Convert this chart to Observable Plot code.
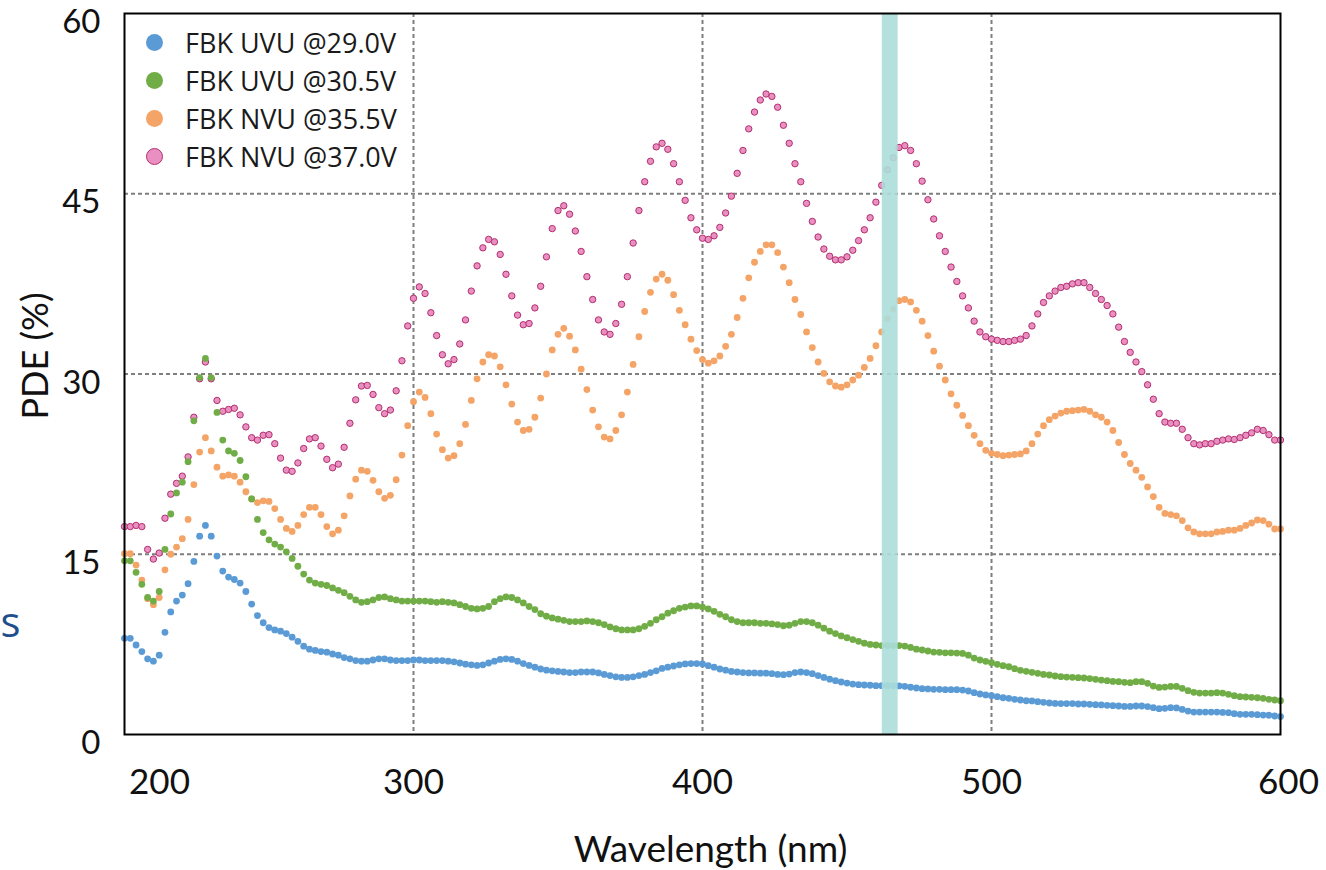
<!DOCTYPE html>
<html>
<head>
<meta charset="utf-8">
<script src="https://cdn.jsdelivr.net/npm/d3@7"></script>
<script src="https://cdn.jsdelivr.net/npm/@observablehq/plot@0.6"></script>
<style>
  html, body { margin: 0; padding: 0; background: #fff; }
  #wrap { position: relative; width: 1326px; height: 870px; overflow: hidden; }
  #legend { position: absolute; left: 146px; top: 23px; font-family: "Open Sans", sans-serif; font-size: 27px; color: #1a1a1a; }
  .row { display: flex; align-items: center; height: 38px; }
  .mk { width: 17px; height: 17px; border-radius: 50%; box-sizing: border-box; margin-right: 22px; }
</style>
</head>
<body>
<div id="wrap">
  <div id="chart"></div>
  <div id="legend"></div>
</div>
<script>
// Wavelength grid (nm), one sample every 2 nm
const wavelengths = d3.range(200, 601, 2);

const seriesNames = ["FBK UVU @29.0V", "FBK UVU @30.5V", "FBK NVU @35.5V", "FBK NVU @37.0V"];
const seriesFill = ["#5b9bd5", "#70ad47", "#f4a466", "#e98fc1"];
const seriesStroke = ["none", "none", "none", "#b2306e"];

// PDE (%) values, 200..600 nm in 2 nm steps
const uvu29 = [
  8.0, 8.0, 7.45, 6.9, 6.3, 6.1, 6.6, 8.5, 10.2, 11.1,
  11.6, 12.55, 14.4, 16.5, 17.4, 16.5, 14.85, 13.6, 13.1, 12.9,
  12.6, 11.9, 10.85, 9.9, 9.3, 8.9, 8.7, 8.6, 8.4, 8.1,
  7.75, 7.35, 7.1, 7.0, 6.9, 6.85, 6.7, 6.6, 6.4, 6.3,
  6.15, 6.1, 6.1, 6.2, 6.3, 6.3, 6.2, 6.15, 6.15, 6.15,
  6.2, 6.2, 6.15, 6.15, 6.15, 6.15, 6.1, 6.05, 5.95, 5.85,
  5.8, 5.75, 5.8, 5.95, 6.1, 6.25, 6.3, 6.25, 6.1, 5.9,
  5.75, 5.6, 5.45, 5.35, 5.3, 5.25, 5.2, 5.15, 5.15, 5.2,
  5.2, 5.2, 5.12, 5.0, 4.9, 4.8, 4.75, 4.75, 4.8, 4.9,
  5.0, 5.15, 5.3, 5.5, 5.6, 5.7, 5.8, 5.87, 5.9, 5.9,
  5.87, 5.73, 5.6, 5.45, 5.35, 5.25, 5.2, 5.15, 5.12, 5.12,
  5.1, 5.1, 5.06, 5.0, 4.98, 5.03, 5.15, 5.2, 5.15, 5.06,
  4.9, 4.75, 4.6, 4.48, 4.37, 4.28, 4.2, 4.15, 4.12, 4.1,
  4.06, 4.06, 4.06, 4.06, 4.04, 4.01, 3.93, 3.87, 3.81, 3.79,
  3.76, 3.76, 3.73, 3.73, 3.73, 3.7, 3.62, 3.48, 3.37, 3.29,
  3.23, 3.15, 3.06, 3.01, 2.93, 2.87, 2.81, 2.79, 2.73, 2.68,
  2.62, 2.59, 2.57, 2.57, 2.57, 2.54, 2.54, 2.51, 2.48, 2.46,
  2.43, 2.4, 2.37, 2.34, 2.34, 2.37, 2.37, 2.32, 2.23, 2.15,
  2.18, 2.23, 2.21, 2.09, 1.95, 1.87, 1.87, 1.87, 1.87, 1.87,
  1.84, 1.82, 1.73, 1.68, 1.68, 1.68, 1.65, 1.62, 1.6, 1.54,
  1.49
];
const uvu305 = [
  14.45, 14.45, 13.5, 12.5, 11.4, 11.1, 11.9, 15.4, 18.35, 20.1,
  21.0, 22.7, 26.1, 29.7, 31.3, 29.7, 26.8, 24.5, 23.6, 23.4,
  22.8, 21.45, 19.6, 17.9, 16.8, 16.2, 15.85, 15.6, 15.2, 14.65,
  14.0, 13.35, 12.85, 12.6, 12.5, 12.4, 12.2, 12.0, 11.8, 11.5,
  11.2, 11.0, 11.05, 11.2, 11.4, 11.45, 11.3, 11.2, 11.1, 11.1,
  11.1, 11.1, 11.1, 11.05, 11.0, 11.05, 11.0, 10.95, 10.8, 10.65,
  10.5, 10.45, 10.5, 10.65, 11.05, 11.3, 11.45, 11.4, 11.2, 10.95,
  10.65, 10.4, 10.05, 9.85, 9.7, 9.6, 9.5, 9.4, 9.4, 9.4,
  9.45, 9.4, 9.3, 9.15, 8.95, 8.8, 8.7, 8.7, 8.7, 8.8,
  9.0, 9.25, 9.55, 9.8, 10.1, 10.3, 10.5, 10.6, 10.7, 10.7,
  10.6, 10.45, 10.25, 10.0, 9.8, 9.55, 9.4, 9.3, 9.3, 9.3,
  9.25, 9.25, 9.2, 9.15, 9.05, 9.1, 9.25, 9.4, 9.4, 9.3,
  9.1, 8.85, 8.6, 8.4, 8.2, 8.05, 7.9, 7.75, 7.6, 7.5,
  7.45, 7.4, 7.4, 7.4, 7.4, 7.36, 7.25, 7.1, 7.03, 6.95,
  6.86, 6.84, 6.8, 6.8, 6.78, 6.75, 6.6, 6.36, 6.2, 6.09,
  5.98, 5.84, 5.73, 5.64, 5.48, 5.34, 5.26, 5.17, 5.09, 5.0,
  4.95, 4.87, 4.81, 4.78, 4.76, 4.73, 4.7, 4.65, 4.59, 4.53,
  4.48, 4.42, 4.4, 4.34, 4.31, 4.4, 4.4, 4.26, 4.03, 3.92,
  3.95, 4.0, 4.0, 3.84, 3.65, 3.51, 3.45, 3.45, 3.45, 3.48,
  3.45, 3.34, 3.23, 3.15, 3.12, 3.09, 3.06, 3.01, 2.93, 2.87,
  2.81
];
const nvu355 = [
  15.05, 15.05, 14.1, 12.85, 11.3, 10.8, 11.4, 13.7, 15.0, 15.6,
  16.3, 17.9, 20.8, 23.5, 24.7, 23.6, 22.25, 21.5, 21.6, 21.5,
  21.0, 20.2, 19.6, 19.3, 19.45, 19.4, 18.8, 17.9, 17.15, 16.9,
  17.4, 18.3, 18.9, 18.9, 18.3, 17.3, 16.7, 17.0, 18.2, 19.85,
  21.25, 22.0, 21.9, 21.15, 20.2, 19.65, 19.9, 21.2, 23.25, 25.7,
  27.7, 28.5, 28.05, 26.7, 25.0, 23.7, 23.0, 23.2, 24.2, 25.8,
  27.8, 29.6, 31.0, 31.6, 31.5, 30.6, 29.1, 27.5, 26.0, 25.3,
  25.4, 26.4, 28.0, 30.0, 32.0, 33.3, 33.8, 33.15, 32.0, 30.4,
  28.7, 27.0, 25.6, 24.75, 24.6, 25.3, 26.6, 28.5, 30.8, 33.1,
  35.2, 36.8, 37.9, 38.3, 37.8, 36.6, 35.3, 34.1, 32.9, 31.95,
  31.2, 30.9, 31.1, 31.5, 32.3, 33.3, 34.7, 36.3, 38.0, 39.3,
  40.2, 40.75, 40.75, 40.1, 38.9, 37.6, 36.2, 34.95, 33.5, 32.2,
  31.0, 30.05, 29.35, 29.0, 28.9, 29.1, 29.5, 29.9, 30.55, 31.3,
  32.35, 33.5, 34.6, 35.4, 36.1, 36.2, 36.0, 35.3, 34.4, 33.2,
  31.9, 30.65, 29.5, 28.35, 27.4, 26.55, 25.7, 24.9, 24.2, 23.65,
  23.4, 23.3, 23.2, 23.25, 23.3, 23.35, 23.6, 24.2, 25.0, 25.7,
  26.2, 26.5, 26.75, 26.9, 26.95, 27.0, 27.05, 26.9, 26.6, 26.4,
  26.0, 25.3, 24.3, 23.3, 22.55, 22.0, 21.4, 20.6, 19.8, 18.9,
  18.4, 18.3, 18.2, 17.8, 17.2, 16.85, 16.7, 16.7, 16.7, 16.85,
  16.9, 17.0, 17.0, 17.15, 17.4, 17.6, 17.85, 17.8, 17.5, 17.1,
  17.1
];
const nvu37 = [
  17.3, 17.3, 17.4, 17.3, 15.4, 14.6, 15.1, 18.0, 20.0, 20.9,
  21.5, 23.1, 26.4, 29.6, 31.0, 29.6, 27.8, 26.9, 27.05, 27.15,
  26.6, 25.6, 24.7, 24.5, 24.9, 24.95, 24.2, 23.0, 22.0, 21.9,
  22.6, 23.8, 24.6, 24.7, 24.0, 22.9, 22.2, 22.5, 23.9, 25.9,
  27.85, 29.0, 29.05, 28.3, 27.2, 26.7, 27.0, 28.6, 31.1, 34.0,
  36.3, 37.25, 36.7, 35.1, 33.2, 31.6, 30.85, 31.2, 32.5, 34.5,
  36.9, 39.0, 40.5, 41.2, 41.0, 39.95, 38.3, 36.5, 34.9, 34.1,
  34.2, 35.5, 37.3, 39.75, 42.1, 43.6, 44.0, 43.3, 41.9, 40.2,
  38.1, 36.2, 34.5, 33.5, 33.3, 34.2, 35.8, 38.1, 40.9, 43.6,
  46.0, 47.7, 48.9, 49.2, 48.7, 47.5, 46.0, 44.45, 43.0, 42.0,
  41.3, 41.2, 41.5, 42.2, 43.4, 44.8, 46.7, 48.6, 50.4, 51.8,
  52.8, 53.3, 53.1, 52.2, 50.7, 49.2, 47.5, 46.0, 44.2, 42.7,
  41.4, 40.4, 39.8, 39.5, 39.5, 39.75, 40.3, 41.1, 42.0, 43.0,
  44.3, 45.7, 47.0, 48.0, 48.85, 49.0, 48.6, 47.5, 46.05, 44.5,
  42.9, 41.5, 40.2, 38.9, 37.7, 36.5, 35.5, 34.4, 33.5, 33.1,
  32.9, 32.8, 32.7, 32.7, 32.8, 32.9, 33.2, 34.0, 35.0, 35.95,
  36.5, 36.9, 37.2, 37.3, 37.5, 37.6, 37.6, 37.2, 36.7, 36.2,
  35.7, 35.0, 33.9, 32.7, 31.8, 31.0, 30.2, 29.1, 27.9, 26.7,
  26.0, 25.9, 25.9, 25.4, 24.7, 24.2, 24.1, 24.2, 24.2, 24.4,
  24.5, 24.6, 24.55, 24.7, 24.9, 25.1, 25.4, 25.3, 24.95, 24.5,
  24.5
];

const xTicks = [200, 300, 400, 500, 600];
const yTicks = [0, 15, 30, 45, 60];
const gridX = [300, 400, 500];
const gridY = [15, 30, 45];
const band = [{from: 462.2, to: 467.7}]; // highlighted wavelength band (nm)

const allSeries = [uvu29, uvu305, nvu355, nvu37];
const rows = (vals) => wavelengths.map((w, i) => ({w, v: vals[i]}));

// draw order: NVU 37.0 first, UVU 29.0 last
const dotMarks = [3, 2, 1, 0].map(k => Plot.dot(rows(allSeries[k]), {
  x: "w", y: "v", r: k === 3 ? 3.2 : 3.4,
  fill: seriesFill[k],
  stroke: seriesStroke[k],
  strokeWidth: k === 3 ? 1 : 0
}));

const chart = Plot.plot({
  width: 1326, height: 870,
  marginLeft: 124, marginRight: 46, marginTop: 13, marginBottom: 136,
  style: {fontFamily: "Lato, 'Open Sans', sans-serif", fontSize: "32px", background: "#fff", color: "#111"},
  x: {domain: [200, 600]},
  y: {domain: [0, 60]},
  marks: [
    Plot.gridX(gridX, {stroke: "#7f7f7f", strokeOpacity: 1, strokeWidth: 2, strokeDasharray: "4,3"}),
    Plot.gridY(gridY, {stroke: "#7f7f7f", strokeOpacity: 1, strokeWidth: 2, strokeDasharray: "4,3"}),
    ...dotMarks,
    Plot.rect(band, {x1: "from", x2: "to", y1: 0, y2: 60, fill: "#acdeda", fillOpacity: 0.9}),
    Plot.frame({stroke: "#000", strokeWidth: 2}),
    Plot.axisX(xTicks.slice(1, 4), {tickSize: 0, tickPadding: 35, label: null, fontSize: 35}),
    Plot.axisX([xTicks[0]], {tickSize: 0, tickPadding: 35, label: null, fontSize: 35, dx: 35}),
    Plot.axisX([xTicks[4]], {tickSize: 0, tickPadding: 35, label: null, fontSize: 35, dx: 8}),
    Plot.axisY(yTicks, {tickSize: 0, tickPadding: 24, label: null, fontSize: 33, dy: 9}),
    Plot.text(["Wavelength (nm)"], {frameAnchor: "bottom", textAnchor: "middle", lineAnchor: "bottom", dy: 127, dx: 8, fontSize: 37}),
    Plot.text(["PDE (%)"], {frameAnchor: "left", textAnchor: "middle", lineAnchor: "middle", rotate: -90, dx: -88, dy: -18, fontSize: 36}),
    Plot.text(["s"], {frameAnchor: "left", textAnchor: "start", lineAnchor: "bottom", dx: -124, dy: 263, fontSize: 42, fill: "#1f4e8c", fontFamily: "'Open Sans', sans-serif"})
  ]
});
document.getElementById("chart").appendChild(chart);

// Legend
const legend = document.getElementById("legend");
seriesNames.forEach((name, k) => {
  const row = document.createElement("div");
  row.className = "row";
  const mk = document.createElement("div");
  mk.className = "mk";
  mk.style.background = seriesFill[k];
  if (seriesStroke[k] !== "none") mk.style.border = "1px solid " + seriesStroke[k];
  const label = document.createElement("span");
  label.textContent = name;
  row.appendChild(mk);
  row.appendChild(label);
  legend.appendChild(row);
});
</script>
</body>
</html>
